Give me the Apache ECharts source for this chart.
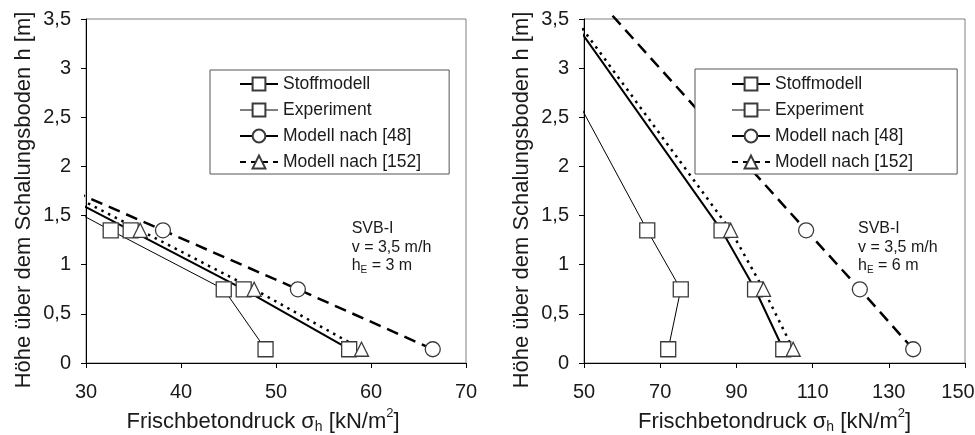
<!DOCTYPE html>
<html>
<head>
<meta charset="utf-8">
<script src="https://cdn.jsdelivr.net/npm/echarts@6/dist/echarts.min.js"></script>
<style>
  html, body { margin: 0; padding: 0; background: #fff; }
  #chart { width: 975px; height: 435px; }
</style>
</head>
<body>
<div id="chart"></div>
<script>
// Heights above the formwork floor at which pressures are given [m]
const heights = [0.14, 0.75, 1.35];

// SVB-I, v = 3,5 m/h, h_E = 3 m : pressures [kN/m2] at the heights above
const stoff3 = [57.7, 46.6, 34.7];
const exp3 = [48.9, 44.5, 32.6];
const m48_3 = [66.5, 52.3, 38.1];
const m152_3 = [59.0, 47.7, 35.7];
// upper end of each curve [pressure, height]
const stoff3End = [29.1, 1.63];
const exp3End = [29.1, 1.53];
const m48_3End = [29.1, 1.73];
const m152_3End = [29.1, 1.68];

// SVB-I, v = 3,5 m/h, h_E = 6 m
const stoff6 = [102.3, 94.9, 86.1];
const exp6 = [72.1, 75.4, 66.6];
const m48_6 = [136.4, 122.4, 108.3];
const m152_6 = [104.9, 97.1, 88.5];
const stoff6End = [47.9, 3.44];
const exp6End = [48.1, 2.68];
const m48_6End = [56.4, 3.58];
const m152_6End = [48.5, 3.46];

// Axis ticks
const xTicks3 = [30, 40, 50, 60, 70];
const xTicks6 = [50, 70, 90, 110, 130, 150];
const yTicks = [0, 0.5, 1, 1.5, 2, 2.5, 3, 3.5];

const FONT = 'Liberation Sans, Arial, Helvetica, sans-serif';
const INK = '#1a1a1a';

const styles = {
  'Stoffmodell': { symbol: 'rect', symbolSize: 15, line: { color: '#000', width: 2, type: 'solid' } },
  'Experiment': { symbol: 'rect', symbolSize: 15, line: { color: '#000', width: 1, type: 'solid' } },
  'Modell nach [48]': { symbol: 'circle', symbolSize: 15, line: { color: '#000', width: 2.5, type: [12, 7] } },
  'Modell nach [152]': { symbol: 'triangle', symbolSize: 14, line: { color: '#000', width: 2.5, type: [2.5, 5] } }
};

function curve(name, values, end, idx) {
  const data = heights.map((h, i) => [values[i], h]);
  data.push({ value: end, symbol: 'none' });
  const s = styles[name];
  return {
    type: 'line',
    name: name,
    xAxisIndex: idx,
    yAxisIndex: idx,
    data: data,
    clip: false,
    symbol: s.symbol,
    symbolSize: s.symbolSize,
    showAllSymbol: true,
    lineStyle: s.line,
    itemStyle: { color: '#fff', borderColor: '#3a3a3a', borderWidth: 1.3 },
    emphasis: { disabled: true },
    z: 3
  };
}

const fmtY = v => String(v).replace('.', ',');

const richName = {
  sub: { fontSize: 14, verticalAlign: 'bottom', lineHeight: 26, fontFamily: FONT, color: INK, padding: [0, 0, 1, 0] },
  sup: { fontSize: 13, verticalAlign: 'top', lineHeight: 26, fontFamily: FONT, color: INK, padding: [-2, 0, 0, 0] }
};

function xAxis(idx, min, max, ticks, shift) {
  return {
    type: 'value', gridIndex: idx, min: min, max: max,
    name: 'Frischbetondruck σ{sub|h} [kN/m{sup|2}]',
    nameLocation: 'middle', nameGap: 36,
    nameTextStyle: { fontSize: 22, color: INK, fontFamily: FONT, lineHeight: 26, rich: richName, padding: shift },
    axisLine: { show: true, onZero: false, lineStyle: { color: '#000', width: 1 } },
    axisTick: { show: true, inside: false, length: 5, customValues: ticks, lineStyle: { color: '#000' } },
    axisLabel: {
      customValues: ticks, fontSize: 20, color: INK, fontFamily: FONT, margin: 19,
      // the rightmost label of the wide panel is pulled in from the page edge
      formatter: v => (idx === 1 && v === max) ? '{last|' + v + '}' : String(v),
      rich: { last: { fontSize: 20, color: INK, fontFamily: FONT, padding: [0, 14, 0, 0] } }
    },
    splitLine: { show: false }
  };
}

function yAxis(idx) {
  return {
    type: 'value', gridIndex: idx, min: 0, max: 3.5, interval: 0.5,
    name: 'Höhe über dem Schalungsboden h [m]',
    nameLocation: 'middle', nameGap: 51, nameRotate: 90,
    nameTextStyle: { fontSize: 22, color: INK, fontFamily: FONT, padding: [0, 18, 0, 0] },
    axisLine: { show: true, onZero: false, lineStyle: { color: '#000', width: 1 } },
    axisTick: { show: true, inside: false, length: 5, customValues: yTicks, lineStyle: { color: '#000' } },
    axisLabel: { customValues: yTicks, formatter: fmtY, fontSize: 20, color: INK, fontFamily: FONT, margin: 15 },
    splitLine: { show: false }
  };
}

const legendItems = [
  { name: 'Stoffmodell', lineStyle: { type: 'solid', width: 2 } },
  { name: 'Experiment', lineStyle: { type: 'solid', width: 1 } },
  { name: 'Modell nach [48]', lineStyle: { type: 'solid', width: 2 } },
  { name: 'Modell nach [152]', lineStyle: { type: [6, 5], width: 2 } }
];

function legend(left, top, padding) {
  return {
    orient: 'vertical', left: left, top: top, padding: padding,
    itemWidth: 38, itemHeight: 16, itemGap: 8,
    borderColor: '#555', borderWidth: 1, backgroundColor: '#fff',
    selectedMode: false,
    data: legendItems,
    textStyle: { fontSize: 17.5, color: INK, fontFamily: FONT, lineHeight: 16 }
  };
}

function note(x, y, he) {
  const style = { fontSize: 16, fill: INK, fontFamily: FONT };
  return [
    { type: 'text', left: x, top: y - 9, style: Object.assign({ text: 'SVB-I' }, style) },
    { type: 'text', left: x, top: y + 9.5, style: Object.assign({ text: 'v = 3,5 m/h' }, style) },
    { type: 'text', left: x, top: y + 27.5, style: {
        text: '{n|h}{s|E}{n| = ' + he + ' m}', fontFamily: FONT, fill: INK,
        rich: { n: { fontSize: 16, fontFamily: FONT, color: INK, lineHeight: 18, verticalAlign: 'bottom' },
                s: { fontSize: 10, fontFamily: FONT, color: INK, lineHeight: 18, verticalAlign: 'bottom', padding: [0, 0, -2, 0] } } } }
  ];
}

const chart = echarts.init(document.getElementById('chart'), null, { renderer: 'canvas' });
chart.setOption({
  animation: false,
  backgroundColor: '#fff',
  grid: [
    { left: 86, right: 509, top: 19, bottom: 72, show: true, borderColor: '#808080', borderWidth: 1, outerBoundsMode: 'none', containLabel: false },
    { left: 584, right: 10, top: 19, bottom: 72, show: true, borderColor: '#808080', borderWidth: 1, outerBoundsMode: 'none', containLabel: false }
  ],
  xAxis: [xAxis(0, 30, 70, xTicks3, [0, 26, 0, 0]), xAxis(1, 50, 150, xTicks6, 0)],
  yAxis: [yAxis(0), yAxis(1)],
  legend: [legend(210, 70, [5, 28, 3, 29]), legend(695, 69, [6, 44, 3, 36])],
  series: [
    curve('Stoffmodell', stoff3, stoff3End, 0),
    curve('Experiment', exp3, exp3End, 0),
    curve('Modell nach [48]', m48_3, m48_3End, 0),
    curve('Modell nach [152]', m152_3, m152_3End, 0),
    curve('Stoffmodell', stoff6, stoff6End, 1),
    curve('Experiment', exp6, exp6End, 1),
    curve('Modell nach [48]', m48_6, m48_6End, 1),
    curve('Modell nach [152]', m152_6, m152_6End, 1)
  ],
  graphic: note(351.7, 230, 3).concat(note(858, 230, 6))
});
</script>
</body>
</html>
